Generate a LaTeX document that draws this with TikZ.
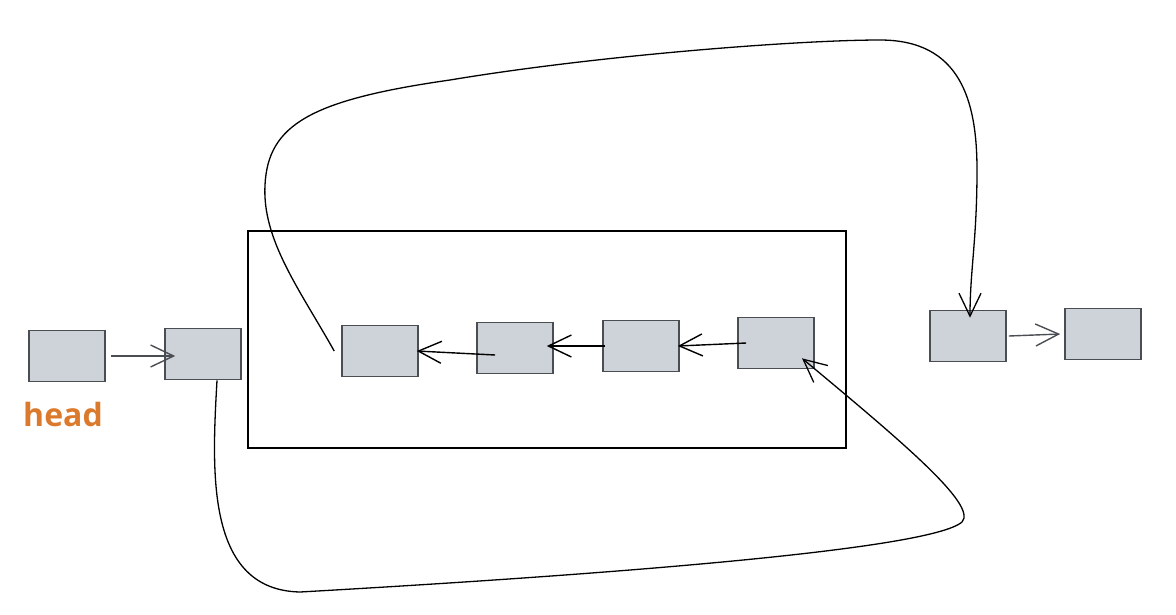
\documentclass[tikz,border=0pt]{standalone}
\usepackage{fontspec}
\newfontfamily\headfont{Open Sans}
\usetikzlibrary{arrows.meta}

\definecolor{cellfill}{HTML}{CED2D9}
\definecolor{celldraw}{HTML}{4A4D52}
\definecolor{headorange}{HTML}{DB7A2C}

\tikzset{
  cell/.style={draw=celldraw, line width=1.6pt, fill=cellfill,
    minimum width=76pt, minimum height=51pt, inner sep=0pt},
  link/.style={line width=1.4pt, -{Straight Barb[length=23pt, width=22pt]}},
  loop/.style={line width=1.3pt, -{Straight Barb[length=23pt, width=22pt]}}
}

\begin{document}
\begin{tikzpicture}[x=1pt, y=-1pt]
  \useasboundingbox (0,0) rectangle (1176,614);

  % frame round the reversed part
  \draw[line width=1.1pt] (248,231) rectangle (846,448);

  % list cells
  \node[cell] (head) at (67,356) {};
  \node[cell] (pre)  at (203,354) {};
  \node[cell] (ra)   at (380,351) {};
  \node[cell] (rb)   at (515,348) {};
  \node[cell] (rc)   at (641,346) {};
  \node[cell] (rd)   at (776,343) {};
  \node[cell] (nxt)  at (968,336) {};
  \node[cell] (tail) at (1103,334) {};

  \node[font=\headfont\bfseries, text=headorange, scale=3.2] (lbl) at (63,414) {head};

  % plain links
  \draw[link, draw=celldraw] ([xshift=5pt]head.east) -- ([xshift=11pt,yshift=-2pt]pre.west);
  \draw[link] ([xshift=9pt]rd.west) -- ([xshift=-2pt]rc.east);
  \draw[link] ([xshift=3pt]rc.west) -- ([xshift=-7pt,yshift=2pt]rb.east);
  \draw[link] ([xshift=19pt,yshift=-7pt]rb.west) -- ([xshift=-2pt]ra.east);
  \draw[link, draw=celldraw] ([xshift=2pt]nxt.east) -- ([xshift=-4pt]tail.west);

  % pre -> rd, under the frame
  \draw[loop] ([xshift=14pt]pre.south)
    .. controls (212,470) and (205,590) .. (300,592)
    .. controls (600,575) and (930,550) .. (962,522)
    .. controls (978,505) and (900,440) .. ([xshift=26pt,yshift=11pt]rd.south);

  % ra -> nxt, over the top
  \draw[loop] ([xshift=-7pt]ra.west)
    .. controls (300,290) and (262,240) .. (265,185)
    .. controls (268,125) and (310,100) .. (450,80)
    .. controls (600,55) and (800,40) .. (880,40)
    .. controls (960,40) and (977,100) .. (977,170)
    .. controls (977,240) and (970,270) .. ([xshift=2pt,yshift=-8pt]nxt.north);
\end{tikzpicture}
\end{document}
